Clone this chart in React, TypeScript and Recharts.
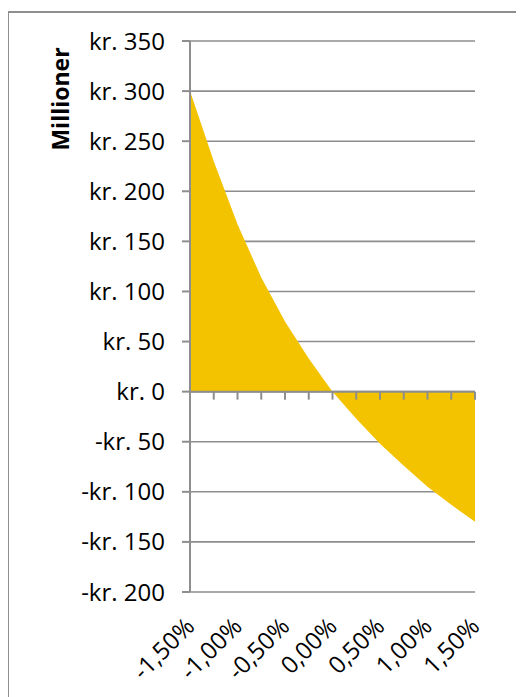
import { ComposedChart, Area, Line, XAxis, YAxis, CartesianGrid } from "recharts";

// rente-afvigelse (kategorier) og nutidsværdi i mio. kr.
const rates = [
  "-1,50%", "-1,25%", "-1,00%", "-0,75%", "-0,50%", "-0,25%", "0,00%",
  "0,25%", "0,50%", "0,75%", "1,00%", "1,25%", "1,50%",
];
const values = [300, 230, 167, 114, 70, 33, 0, -27, -52, -74, -95, -113, -130];
const yTicks = [-200, -150, -100, -50, 0, 50, 100, 150, 200, 250, 300, 350];

const data = rates.map((rate, i) => ({ rate, value: values[i] }));

const FONT = "'Open Sans', Lato, sans-serif";
const GRAY = "#8e8e8e";
const GOLD = "#F4C300";

function formatKr(v: number): string {
  return v < 0 ? `-kr. ${-v}` : `kr. ${v}`;
}

// eslint-disable-next-line @typescript-eslint/no-explicit-any
function RateTick(props: any) {
  const { x, y, payload } = props;
  return (
    <g transform={`translate(${x + 6},${y + 28})`}>
      <text textAnchor="end" transform="rotate(-45)" fontSize={24} fontFamily={FONT} fill="#000">
        {payload.value}
      </text>
    </g>
  );
}

// eslint-disable-next-line @typescript-eslint/no-explicit-any
function ZeroTick(props: any) {
  const { cx, cy, index } = props;
  return <line key={index} x1={cx} y1={cy} x2={cx} y2={cy + 8} stroke={GRAY} strokeWidth={2} />;
}

// eslint-disable-next-line @typescript-eslint/no-explicit-any
function AxisTitle(props: any) {
  const cx = 52;
  const cy = 91;
  void props;
  return (
    <text
      x={cx}
      y={cy}
      transform={`rotate(-90, ${cx}, ${cy})`}
      textAnchor="middle"
      dominantBaseline="central"
      fontSize={23}
      fontWeight="bold"
      fontFamily={FONT}
      fill="#000"
    >
      Millioner
    </text>
  );
}

export default function App() {
  return (
    <div style={{ position: "relative", width: 516, height: 689, overflow: "hidden" }}>
      <div
        style={{
          position: "absolute",
          left: -1,
          top: 3,
          width: 700,
          height: 900,
          borderLeft: `2px solid ${GRAY}`,
          borderTop: `2px solid ${GRAY}`,
        }}
      />
      <ComposedChart
        width={516}
        height={689}
        data={data}
        margin={{ top: 33, right: 49, left: 0, bottom: 5 }}
        style={{ position: "absolute", left: 0, top: 0 }}
      >
        <CartesianGrid vertical={false} stroke={GRAY} strokeWidth={1.6} />
        <XAxis
          dataKey="rate"
          interval={1}
          height={100}
          axisLine={false}
          tickLine={false}
          tick={<RateTick />}
        />
        <YAxis
          width={182}
          domain={[-200, 350]}
          ticks={yTicks}
          tickFormatter={formatKr}
          tickSize={8}
          tickMargin={17}
          axisLine={{ stroke: GRAY, strokeWidth: 2 }}
          tickLine={{ stroke: GRAY, strokeWidth: 2 }}
          tick={{ fontSize: 24, fontFamily: FONT, fill: "#000" }}
          label={<AxisTitle />}
        />
        <Area
          type="linear"
          dataKey="value"
          fill={GOLD}
          fillOpacity={1}
          stroke="none"
          isAnimationActive={false}
        />
        <Line
          dataKey={() => 0}
          stroke={GRAY}
          strokeWidth={2}
          dot={<ZeroTick />}
          activeDot={false}
          isAnimationActive={false}
        />
      </ComposedChart>
    </div>
  );
}
